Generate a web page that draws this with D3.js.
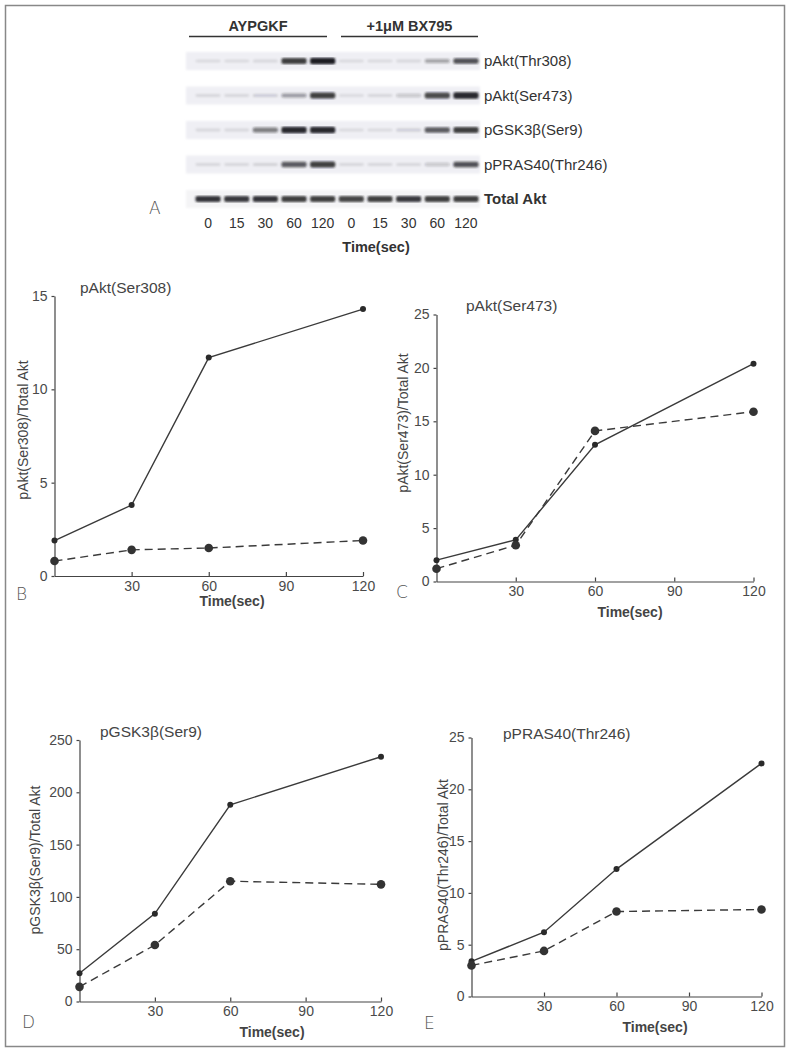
<!DOCTYPE html>
<html>
<head>
<meta charset="utf-8">
<script src="https://cdn.jsdelivr.net/npm/d3@7"></script>
<style>
  body { margin: 0; background: #fff; }
  svg { font-family: "Liberation Sans", Arial, sans-serif; }
  .axis path, .axis line { stroke: #444; stroke-width: 1.2; }
  .axis text { fill: #4a4a4a; font-size: 14px; font-family: "Liberation Sans", Arial, sans-serif; }
  .lbl { fill: #444; font-size: 14px; }
  .title { fill: #444; font-size: 15.5px; }
  .letter { fill: #555; font-size: 17px; font-family: "DejaVu Sans", sans-serif; font-weight: 300; }
</style>
</head>
<body>
<svg id="fig" width="790" height="1050"></svg>
<script>
// time points (sec) for the densitometry plots
const times = [0, 30, 60, 120];
const xTicks = [30, 60, 90, 120];

// ratios to total Akt: AYPGKF alone (solid) and +1uM BX795 (dashed)
const akt308Control = [1.9, 3.8, 11.7, 14.3];
const akt308Bx = [0.8, 1.4, 1.5, 1.9];
const akt473Control = [2.0, 3.9, 12.8, 20.4];
const akt473Bx = [1.2, 3.4, 14.1, 15.9];
const gskControl = [27, 84, 188, 234];
const gskBx = [14, 54, 115, 112];
const prasControl = [3.4, 6.2, 12.3, 22.5];
const prasBx = [3.0, 4.4, 8.2, 8.4];

const akt308Ticks = [0, 5, 10, 15];
const akt473Ticks = [0, 5, 10, 15, 20, 25];
const gskTicks = [0, 50, 100, 150, 200, 250];
const prasTicks = [0, 5, 10, 15, 20, 25];

// western blot (panel A)
const laneLabels = ['0', '15', '30', '60', '120', '0', '15', '30', '60', '120'];
const blotRows = ['pAkt(Thr308)', 'pAkt(Ser473)', 'pGSK3\u03b2(Ser9)', 'pPRAS40(Thr246)', 'Total Akt'];
// band darkness per lane, 0..1 (read by eye)
const bandThr308 = [0.03, 0.03, 0.1, 0.85, 1.0, 0.03, 0.03, 0.06, 0.35, 0.75];
const bandSer473 = [0.05, 0.06, 0.15, 0.4, 0.85, 0.03, 0.05, 0.2, 0.8, 0.95];
const bandGsk = [0.05, 0.08, 0.55, 0.95, 0.95, 0.03, 0.03, 0.15, 0.7, 0.85];
const bandPras = [0.08, 0.08, 0.12, 0.7, 0.85, 0.08, 0.08, 0.1, 0.2, 0.75];
const bandTotal = [0.9, 0.88, 0.9, 0.85, 0.85, 0.82, 0.85, 0.88, 0.85, 0.85];

const svg = d3.select('#fig');

// outer frame
svg.append('rect')
  .attr('x', 5.5).attr('y', 5.5)
  .attr('width', 779).attr('height', 1041)
  .attr('fill', 'none').attr('stroke', '#888').attr('stroke-width', 1.5);

// ---- panel A: blot ----
const blot = svg.append('g');
const lane = d3.scaleBand().domain(d3.range(10)).range([192, 482]).padding(0.12);
const rowY = d3.scalePoint().domain(blotRows).range([61, 199]);
const bandData = [bandThr308, bandSer473, bandGsk, bandPras, bandTotal];

const blur = svg.append('defs').append('filter').attr('id', 'soft');
blur.append('feGaussianBlur').attr('stdDeviation', 0.8);

blotRows.forEach((name, i) => {
  const y = rowY(name);
  // faint membrane background strip
  blot.append('rect')
    .attr('x', 186).attr('y', y - 9)
    .attr('width', 294).attr('height', 18)
    .attr('fill', i === 4 ? '#f4f4f6' : '#efeff4')
    .attr('filter', 'url(#soft)');
  blot.append('g').attr('filter', 'url(#soft)')
    .selectAll('rect')
    .data(bandData[i])
    .join('rect')
    .attr('x', (d, j) => lane(j))
    .attr('y', d => y - (1.3 + d * 2))
    .attr('width', lane.bandwidth())
    .attr('height', d => 2.6 + d * 4)
    .attr('rx', 2)
    .attr('fill', '#1e1e22')
    .attr('opacity', d => Math.max(0.1, d));
  blot.append('text')
    .attr('x', 484).attr('y', y + 5)
    .attr('font-size', 15)
    .attr('font-weight', i === 4 ? 'bold' : 'normal')
    .attr('fill', '#333')
    .text(name);
});

blot.selectAll('.lane')
  .data(laneLabels)
  .join('text')
  .attr('x', (d, j) => lane(j) + lane.bandwidth() / 2)
  .attr('y', 228)
  .attr('text-anchor', 'middle')
  .attr('font-size', 14)
  .attr('fill', '#333')
  .text(d => d);

blot.append('text').attr('x', 376).attr('y', 252).attr('text-anchor', 'middle')
  .attr('font-size', 14.5).attr('font-weight', 'bold').attr('fill', '#333').text('Time(sec)');

[['AYPGKF', 189, 327], ['+1\u03bcM BX795', 341, 478]].forEach(([t, a, b]) => {
  blot.append('line').attr('x1', a).attr('x2', b).attr('y1', 36.5).attr('y2', 36.5)
    .attr('stroke', '#333').attr('stroke-width', 1.3);
  blot.append('text').attr('x', (a + b) / 2).attr('y', 31).attr('text-anchor', 'middle')
    .attr('font-size', 14.5).attr('font-weight', 'bold').attr('fill', '#333').text(t);
});
blot.append('text').attr('class', 'letter').attr('font-size', 15).attr('x', 149).attr('y', 214).text('A');

// ---- line panels ----
const panels = [
  { letter: 'B', title: 'pAkt(Ser308)', ylab: 'pAkt(Ser308)/Total Akt', ctrl: akt308Control, bx: akt308Bx, ticks: akt308Ticks,
    x0: 54.5, x1: 363, y0: 576, y1: 296, titleX: 80, titleY: 293, ylabX: 28, ylabY: 430,
    letterX: 16, letterY: 600, xlabX: 232, xlabY: 606 },
  { letter: 'C', title: 'pAkt(Ser473)', ylab: 'pAkt(Ser473)/Total Akt', ctrl: akt473Control, bx: akt473Bx, ticks: akt473Ticks,
    x0: 436.5, x1: 753.5, y0: 581.5, y1: 314.5, titleX: 466, titleY: 311, ylabX: 408, ylabY: 423,
    letterX: 396, letterY: 598, xlabX: 630, xlabY: 617 },
  { letter: 'D', title: 'pGSK3\u03b2(Ser9)', ylab: 'pGSK3\u03b2(Ser9)/Total Akt', ctrl: gskControl, bx: gskBx, ticks: gskTicks,
    x0: 79.5, x1: 381, y0: 1001.5, y1: 740, titleX: 100, titleY: 737, ylabX: 40, ylabY: 860,
    letterX: 22, letterY: 1028, xlabX: 272, xlabY: 1037 },
  { letter: 'E', title: 'pPRAS40(Thr246)', ylab: 'pPRAS40(Thr246)/Total Akt', ctrl: prasControl, bx: prasBx, ticks: prasTicks,
    x0: 471.5, x1: 761.5, y0: 996.5, y1: 737.5, titleX: 503, titleY: 739, ylabX: 448, ylabY: 865,
    letterX: 424, letterY: 1029, xlabX: 655, xlabY: 1032 }
];

panels.forEach(p => {
  const g = svg.append('g');
  const x = d3.scaleLinear().domain([0, 120]).range([p.x0, p.x1]);
  const y = d3.scaleLinear().domain([0, d3.max(p.ticks)]).range([p.y0, p.y1]);

  g.append('g').attr('class', 'axis')
    .attr('transform', `translate(${p.x0},0)`)
    .call(d3.axisLeft(y).tickValues(p.ticks).tickSizeInner(3).tickSizeOuter(0).tickPadding(4));

  g.append('g').attr('class', 'axis')
    .attr('transform', `translate(0,${p.y0})`)
    .call(d3.axisBottom(x).tickValues(xTicks).tickSizeInner(-4).tickSizeOuter(0).tickPadding(5));

  const line = d3.line().x((d, i) => x(times[i])).y(d => y(d));

  g.append('path').datum(p.ctrl)
    .attr('fill', 'none').attr('stroke', '#3a3a3a').attr('stroke-width', 1.4)
    .attr('d', line);
  g.append('path').datum(p.bx)
    .attr('fill', 'none').attr('stroke', '#3a3a3a').attr('stroke-width', 1.4)
    .attr('stroke-dasharray', '8,5')
    .attr('d', line);

  g.selectAll('.c').data(p.ctrl).join('circle')
    .attr('cx', (d, i) => x(times[i])).attr('cy', d => y(d))
    .attr('r', 3).attr('fill', '#2a2a2a');
  g.selectAll('.b').data(p.bx).join('circle')
    .attr('cx', (d, i) => x(times[i])).attr('cy', d => y(d))
    .attr('r', 4.3).attr('fill', '#333');

  g.append('text').attr('class', 'title').attr('x', p.titleX).attr('y', p.titleY).text(p.title);
  g.append('text').attr('class', 'lbl')
    .attr('transform', `translate(${p.ylabX},${p.ylabY}) rotate(-90)`)
    .attr('text-anchor', 'middle').text(p.ylab);
  g.append('text').attr('class', 'lbl').attr('font-weight', 'bold').attr('font-size', 14.5)
    .attr('x', p.xlabX).attr('y', p.xlabY)
    .attr('text-anchor', 'middle').text('Time(sec)');
  g.append('text').attr('class', 'letter').attr('x', p.letterX).attr('y', p.letterY).text(p.letter);
});
</script>
</body>
</html>
